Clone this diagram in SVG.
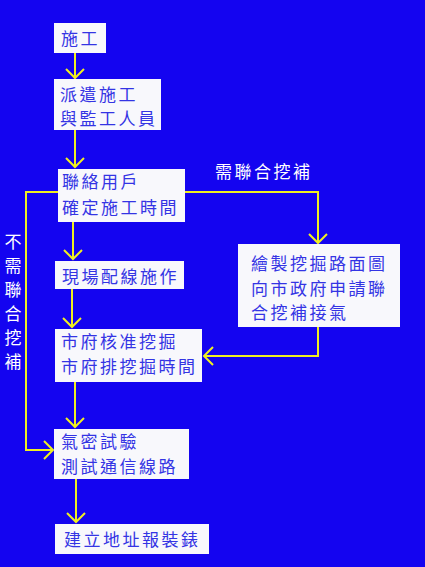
<svg xmlns="http://www.w3.org/2000/svg" width="425" height="567" viewBox="0 0 425 567">
<style>
.box{fill:#f8f8fc}
.t{font-family:"Noto Sans CJK TC","Noto Sans CJK SC",sans-serif;font-size:17px;letter-spacing:2.5px;fill:#3434e4}
.w{font-family:"Noto Sans CJK TC","Noto Sans CJK SC",sans-serif;font-size:17px;letter-spacing:2.5px;fill:#ffffff}
.c{fill:none;stroke:#f0f020;stroke-width:2}
</style>
<defs>
<marker id="ah" markerUnits="userSpaceOnUse" orient="auto" refX="0" refY="0" markerWidth="20" markerHeight="20" overflow="visible">
<path d="M-9,-9 L0,0 L-9,9" fill="none" stroke="#f0f020" stroke-width="2"/>
</marker>
</defs>
<rect width="425" height="567" fill="#1404f0"/>
<g id="connectors">
<path class="c" d="M75,53 V78" marker-end="url(#ah)"/>
<path class="c" d="M75,130 V167" marker-end="url(#ah)"/>
<path class="c" d="M73,222 V259" marker-end="url(#ah)"/>
<path class="c" d="M72,289 V327" marker-end="url(#ah)"/>
<path class="c" d="M75,382 V427" marker-end="url(#ah)"/>
<path class="c" d="M76,479 V522" marker-end="url(#ah)"/>
<path class="c" d="M185,192 H318 V243" marker-end="url(#ah)"/>
<path class="c" d="M318,327 V356 H204" marker-end="url(#ah)"/>
<path class="c" d="M58,192 H26 V450 H53" marker-end="url(#ah)"/>
</g>
<g id="label-need">
<text class="w" x="215" y="178">需聯合挖補</text>
</g>
<g id="label-noneed">
<text class="w" x="13" text-anchor="middle" style="letter-spacing:0"><tspan x="13" y="248">不</tspan><tspan x="13" y="272">需</tspan><tspan x="13" y="296">聯</tspan><tspan x="13" y="320">合</tspan><tspan x="13" y="344">挖</tspan><tspan x="13" y="368">補</tspan></text>
</g>
<g id="n1">
<rect class="box" x="54" y="23" width="52" height="30"/>
<text class="t" x="61" y="45">施工</text>
</g>
<g id="n2">
<rect class="box" x="54" y="79" width="107" height="51"/>
<text class="t" x="60" y="101">派遣施工</text>
<text class="t" x="60" y="125">與監工人員</text>
</g>
<g id="n3">
<rect class="box" x="58" y="169" width="127" height="53"/>
<text class="t" x="62" y="188">聯絡用戶</text>
<text class="t" x="62" y="214">確定施工時間</text>
</g>
<g id="n4">
<rect class="box" x="55" y="261" width="129" height="28"/>
<text class="t" x="62" y="283">現場配線施作</text>
</g>
<g id="n5">
<rect class="box" x="238" y="244" width="162" height="83"/>
<text class="t" x="251" y="270">繪製挖掘路面圖</text>
<text class="t" x="251" y="295">向市政府申請聯</text>
<text class="t" x="251" y="319">合挖補接氣</text>
</g>
<g id="n6">
<rect class="box" x="55" y="329" width="147" height="53"/>
<text class="t" x="61" y="348">市府核准挖掘</text>
<text class="t" x="61" y="373">市府排挖掘時間</text>
</g>
<g id="n7">
<rect class="box" x="54" y="429" width="135" height="50"/>
<text class="t" x="61" y="448">氣密試驗</text>
<text class="t" x="61" y="473">測試通信線路</text>
</g>
<g id="n8">
<rect class="box" x="55" y="524" width="154" height="30"/>
<text class="t" x="64" y="546">建立地址報裝錶</text>
</g>
</svg>
